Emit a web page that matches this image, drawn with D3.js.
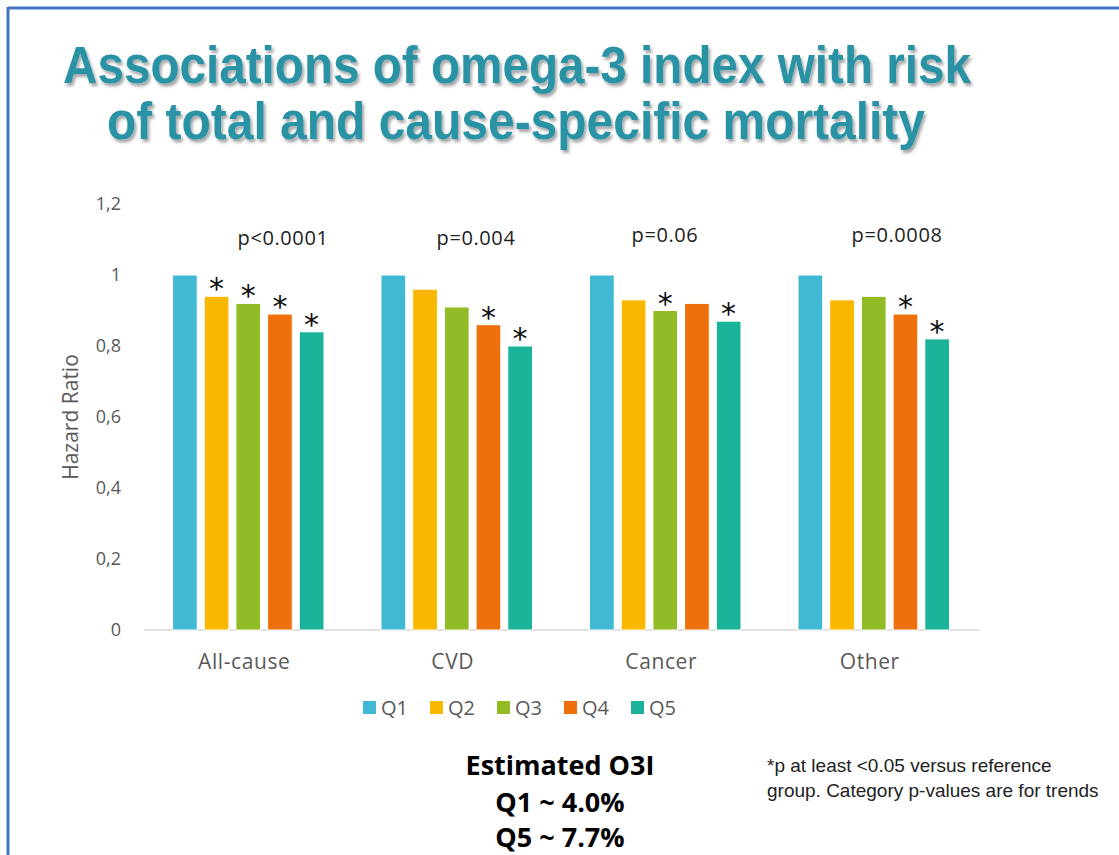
<!DOCTYPE html>
<html>
<head>
<meta charset="utf-8">
<script src="https://cdn.jsdelivr.net/npm/d3@7"></script>
<style>
  html, body { margin: 0; padding: 0; background: #fff; }
  svg { display: block; }
</style>
</head>
<body>
<script>
// ---- data ----
const categories = ["All-cause", "CVD", "Cancer", "Other"];
const quintiles = ["Q1", "Q2", "Q3", "Q4", "Q5"];
const allCause = [1.00, 0.94, 0.92, 0.89, 0.84];
const cvd      = [1.00, 0.96, 0.91, 0.86, 0.80];
const cancer   = [1.00, 0.93, 0.90, 0.92, 0.87];
const other    = [1.00, 0.93, 0.94, 0.89, 0.82];
const significant = [
  [false, true, true, true, true],
  [false, false, false, true, true],
  [false, false, true, false, true],
  [false, false, false, true, true]
];
const pValues = ["p<0.0001", "p=0.004", "p=0.06", "p=0.0008"];
const yTicks = [0, 0.2, 0.4, 0.6, 0.8, 1, 1.2];
const yTickLabels = ["0", "0,2", "0,4", "0,6", "0,8", "1", "1,2"];
const colors = ["#41B8D4", "#F9B700", "#92BC26", "#EE700C", "#1CB39B"];
const titleLines = ["Associations of omega-3 index with risk", "of total and cause-specific mortality"];
const noteLines = ["Estimated O3I", "Q1 ~ 4.0%", "Q5 ~ 7.7%"];
const footLines = ["*p at least <0.05 versus reference", "group. Category p-values are for trends"];

const seriesByCat = [allCause, cvd, cancer, other];

const W = 1119, H = 855;
const svg = d3.select("body").append("svg").attr("width", W).attr("height", H);

// frame
svg.append("line").attr("x1", 8).attr("x2", W).attr("y1", 8).attr("y2", 8)
  .attr("stroke", "#4472C4").attr("stroke-width", 3);
svg.append("line").attr("x1", 8).attr("x2", 8).attr("y1", 7).attr("y2", H)
  .attr("stroke", "#4472C4").attr("stroke-width", 3);

// title shadow filter
const defs = svg.append("defs");
const f = defs.append("filter").attr("id", "sh").attr("filterUnits", "userSpaceOnUse")
  .attr("x", 20).attr("y", 20).attr("width", 1050).attr("height", 150);
f.append("feDropShadow").attr("dx", 2).attr("dy", 3).attr("stdDeviation", 1.6)
  .attr("flood-color", "#000").attr("flood-opacity", 0.35);

const titleG = svg.append("g").attr("filter", "url(#sh)");
const titleSpec = [{x: 63, y: 83, len: 908}, {x: 107, y: 139, len: 818}];
titleLines.forEach((t, i) => {
  titleG.append("text")
    .attr("x", titleSpec[i].x).attr("y", titleSpec[i].y)
    .attr("textLength", titleSpec[i].len).attr("lengthAdjust", "spacingAndGlyphs")
    .style("font-family", "'Liberation Sans Narrow', 'Liberation Sans', sans-serif")
    .style("font-weight", "bold").style("font-size", "51px")
    .attr("fill", "#2A92A5").text(t);
});

// scales
const x0 = d3.scaleBand().domain(categories).range([144, 978]).paddingInner(0).paddingOuter(0);
const x1 = d3.scaleBand().domain(quintiles).range([0, x0.bandwidth()]).paddingInner(0.22).paddingOuter(0.9);
const y = d3.scaleLinear().domain([0, 1.2]).range([630, 204]);

const fontAxis = "'Open Sans', 'Noto Sans', sans-serif";

// y axis labels
const yAxis = d3.axisLeft(y).tickValues(yTicks).tickSize(0).tickPadding(0)
  .tickFormat((d, i) => yTickLabels[i]);
const yg = svg.append("g").attr("transform", "translate(121,0)").call(yAxis);
yg.select(".domain").remove();
yg.selectAll("text").style("font-family", fontAxis).style("font-size", "18px").attr("fill", "#595959");

svg.append("text")
  .attr("transform", "translate(78,417) rotate(-90)")
  .attr("text-anchor", "middle")
  .style("font-family", fontAxis).style("font-size", "21px").attr("fill", "#595959")
  .text("Hazard Ratio");

// baseline
svg.append("line").attr("x1", 144).attr("x2", 980).attr("y1", y(0)).attr("y2", y(0))
  .attr("stroke", "#D9D9D9").attr("stroke-width", 1.5);

// bars
categories.forEach((c, ci) => {
  const g = svg.append("g").attr("transform", `translate(${x0(c)},0)`);
  const vals = seriesByCat[ci];
  g.selectAll("rect").data(vals).join("rect")
    .attr("x", (d, i) => x1(quintiles[i]))
    .attr("y", d => y(d))
    .attr("width", x1.bandwidth())
    .attr("height", d => y(0) - y(d))
    .attr("fill", (d, i) => colors[i])
    .attr("stroke", "#fff").attr("stroke-width", 1);
  g.selectAll("text.star").data(vals).join("text")
    .attr("class", "star")
    .attr("x", (d, i) => x1(quintiles[i]) + x1.bandwidth() / 2)
    .attr("y", d => y(d) + 3)
    .attr("text-anchor", "middle")
    .style("font-family", "'DejaVu Sans', sans-serif").style("font-size", "30px")
    .attr("fill", "#111")
    .text((d, i) => significant[ci][i] ? "*" : "");
});

// p-values
const pPos = [[283, 245], [476, 245], [665, 242], [897, 242]];
pValues.forEach((p, i) => {
  svg.append("text").attr("x", pPos[i][0]).attr("y", pPos[i][1])
    .attr("text-anchor", "middle")
    .style("font-family", fontAxis).style("font-size", "20px")
    .style("letter-spacing", "0.6px").attr("fill", "#222")
    .text(p);
});

// x axis labels
categories.forEach(c => {
  svg.append("text").attr("x", x0(c) + x0.bandwidth() / 2 - 4).attr("y", 669)
    .attr("text-anchor", "middle")
    .style("font-family", fontAxis).style("font-size", "21px")
    .style("letter-spacing", "0.6px").attr("fill", "#595959")
    .text(c);
});

// legend
const legX = [363, 430, 497, 564, 631];
quintiles.forEach((q, i) => {
  svg.append("rect").attr("x", legX[i]).attr("y", 701).attr("width", 13).attr("height", 13)
    .attr("fill", colors[i]);
  svg.append("text").attr("x", legX[i] + 18).attr("y", 715)
    .style("font-family", fontAxis).style("font-size", "20px").attr("fill", "#595959")
    .text(q);
});

// note
const noteY = [775, 812, 847];
noteLines.forEach((t, i) => {
  svg.append("text").attr("x", 560).attr("y", noteY[i]).attr("text-anchor", "middle")
    .style("font-family", "'Open Sans', sans-serif").style("font-weight", "bold")
    .style("font-size", "27px").attr("fill", "#000").text(t);
});

// footnote
const footY = [772, 797];
footLines.forEach((t, i) => {
  svg.append("text").attr("x", 767).attr("y", footY[i])
    .style("font-family", "'Liberation Sans', sans-serif")
    .style("font-size", "19px").attr("fill", "#222").text(t);
});
</script>
</body>
</html>
